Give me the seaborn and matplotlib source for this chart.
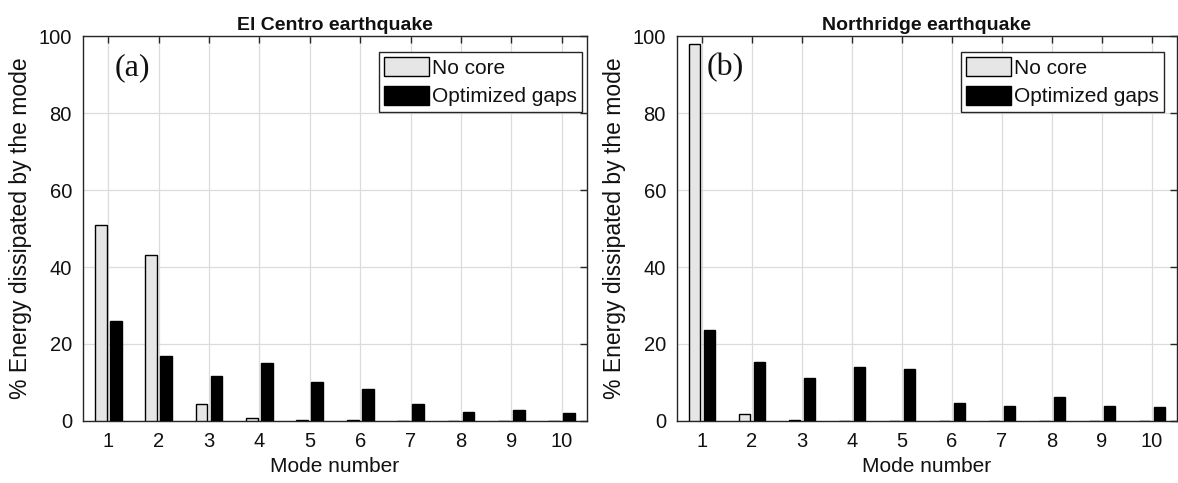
import matplotlib.pyplot as plt
import pandas as pd
import seaborn as sns
from matplotlib.patches import Patch

# Mode numbers and series
modes = [1, 2, 3, 4, 5, 6, 7, 8, 9, 10]
series_names = ["No core", "Optimized gaps"]

# El Centro earthquake (% energy dissipated by each mode)
elcentro_no_core = [51, 43, 4.5, 0.9, 0.2, 0.15, 0, 0, 0, 0]
elcentro_optimized = [26, 17, 11.7, 15, 10.2, 8.3, 4.5, 2.3, 2.9, 2.0]

# Northridge earthquake
northridge_no_core = [98, 1.7, 0.3, 0, 0, 0, 0, 0, 0, 0]
northridge_optimized = [23.7, 15.3, 11.1, 14.1, 13.5, 4.7, 3.9, 6.3, 3.9, 3.7]

titles = ["El Centro earthquake", "Northridge earthquake"]
panel_tags = ["(a)", "(b)"]

sns.set_style("whitegrid")
plt.rcParams['font.family'] = ['Liberation Sans', 'DejaVu Sans']
plt.rcParams['text.color'] = '#111111'
plt.rcParams['axes.labelcolor'] = '#111111'
colors = ["#e6e6e6", "#000000"]


def long_table(no_core, optimized):
    return pd.DataFrame({
        "Mode": modes * 2,
        "Energy": no_core + optimized,
        "Type": [series_names[0]] * len(modes) + [series_names[1]] * len(modes),
    })


fig = plt.figure(figsize=(11.78, 4.83), dpi=100)
ax1 = fig.add_axes([0.0705, 0.1284, 0.4278, 0.797])
ax2 = fig.add_axes([0.5747, 0.1284, 0.4244, 0.797])

datasets = [(elcentro_no_core, elcentro_optimized), (northridge_no_core, northridge_optimized)]
legend_offsets = [5, 13]  # px from right spine

for ax, (nc, og), title, tag, off in zip([ax1, ax2], datasets, titles, panel_tags, legend_offsets):
    df = long_table(nc, og)
    sns.barplot(data=df, x="Mode", y="Energy", hue="Type", hue_order=series_names,
                palette=colors, edgecolor="black", linewidth=1.0,
                width=0.6, gap=0.22, legend=False, ax=ax, zorder=3)
    ax.set_xlim(-0.5, 9.5)
    ax.set_ylim(0, 100)
    ax.set_yticks([0, 20, 40, 60, 80, 100])
    ax.grid(True, color="#dcdcdc", linewidth=0.9, zorder=0)
    ax.set_axisbelow(True)
    for s in ax.spines.values():
        s.set_color("#262626")
        s.set_linewidth(1.0)
        s.set_visible(True)
    ax.tick_params(direction="in", length=5, width=1, color="#262626", labelcolor="#111111",
                   top=True, right=True, labelsize=14.5, pad=8)
    ax.set_xlabel("Mode number", fontsize=15, labelpad=4)
    ax.set_ylabel("% Energy dissipated by the mode", fontsize=16.5, labelpad=5)
    ax.set_title(title, fontsize=14, fontweight="bold", pad=4)
    ax.text(0.47, 91.7, tag, family=["Liberation Serif", "DejaVu Serif"],
            fontsize=23, ha="center", va="center")
    handles = [Patch(facecolor=colors[0], edgecolor="black", linewidth=1.0),
               Patch(facecolor=colors[1], edgecolor="black", linewidth=1.0)]
    leg = ax.legend(handles, series_names, loc="upper right",
                    bbox_to_anchor=(1 - off / 504, 1 - 16 / 385), borderaxespad=0,
                    fontsize=15, fancybox=False, framealpha=1, edgecolor="#262626",
                    handlelength=2.15, handleheight=1.0, handletextpad=0.15,
                    borderpad=0.25, labelspacing=0.4)
    leg.get_frame().set_linewidth(1.0)

fig.savefig("out.png", dpi=100)
